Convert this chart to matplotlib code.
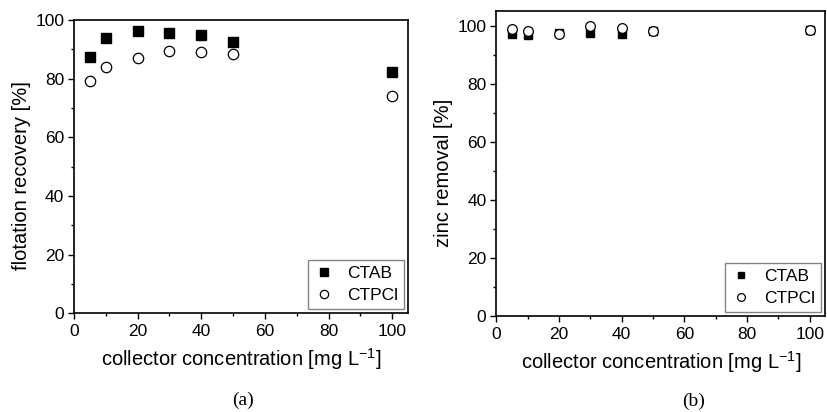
import numpy as np
import matplotlib.pyplot as plt
from matplotlib.ticker import MultipleLocator

conc = [5, 10, 20, 30, 40, 50, 100]

# flotation recovery (%)
rec_ctab = [87.5, 94.0, 96.3, 95.7, 95.1, 92.7, 82.2]
rec_ctpcl = [79.1, 84.0, 87.2, 89.6, 89.0, 88.5, 74.0]

# zinc removal (%)
zn_ctab = [97.0, 96.8, 97.3, 97.5, 97.0, 98.3, 98.5]
zn_ctpcl = [99.0, 98.1, 97.0, 99.8, 99.1, 98.3, 98.5]

plt.rcParams['font.family'] = ['Liberation Sans', 'DejaVu Sans']

fig = plt.figure(figsize=(8.27, 4.12), dpi=100)
ax1 = fig.add_axes([0.0895, 0.240, 0.404, 0.711])
ax2 = fig.add_axes([0.600, 0.233, 0.398, 0.740])


def style(ax, ylabel, ytop):
    ax.set_xlim(0, 105)
    ax.set_ylim(0, ytop)
    ax.xaxis.set_major_locator(MultipleLocator(20))
    ax.xaxis.set_minor_locator(MultipleLocator(10))
    ax.yaxis.set_major_locator(MultipleLocator(20))
    ax.yaxis.set_minor_locator(MultipleLocator(10))
    ax.tick_params(which='both', direction='out', top=False, right=False,
                   labelsize=12.5, width=1.0, pad=3)
    ax.tick_params(axis='x', pad=4)
    ax.tick_params(which='major', length=4)
    ax.tick_params(which='minor', length=2.5)
    for s in ax.spines.values():
        s.set_linewidth(1.2)
    ax.set_xlabel('collector concentration [mg L$^{\\mathregular{-1}}$]', fontsize=14.5, labelpad=5)
    ax.set_ylabel(ylabel, fontsize=14.5, labelpad=3)
    ax.yaxis.label.set_y(0.47)
    leg = ax.legend(loc='lower right', frameon=True, fancybox=False, fontsize=12.5,
                    handletextpad=0.7, borderpad=0.35, labelspacing=0.35,
                    handlelength=1.2, borderaxespad=0.25, markerscale=0.8)
    leg.get_frame().set_edgecolor('#666666')
    leg.get_frame().set_linewidth(1.0)


ax1.plot(conc, rec_ctab, 's', color='black', ms=6.5, label='CTAB')
ax1.plot(conc, rec_ctpcl, 'o', mfc='white', mec='black', mew=0.9, ms=7.5, label='CTPCl')
style(ax1, 'flotation recovery [%]', 100)

ax2.plot(conc, zn_ctab, 's', color='black', ms=6, label='CTAB')
ax2.plot(conc, zn_ctpcl, 'o', mfc='white', mec='black', mew=0.9, ms=7, label='CTPCl')
style(ax2, 'zinc removal [%]', 105)

fig.text(0.294, 0.029, '(a)', family='Liberation Serif', fontsize=14, ha='center', va='center')
fig.text(0.839, 0.027, '(b)', family='Liberation Serif', fontsize=14, ha='center', va='center')

fig.savefig('out.png', dpi=100)
